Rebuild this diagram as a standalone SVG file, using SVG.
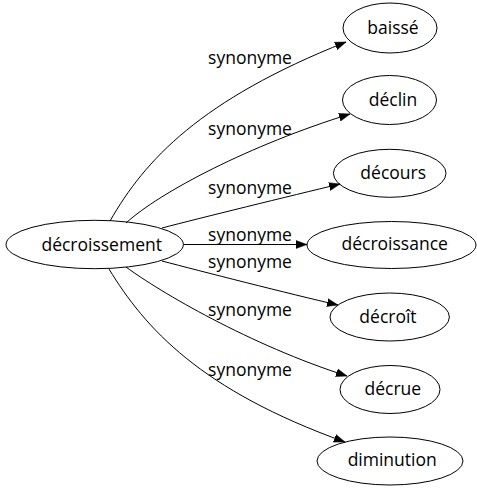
<svg xmlns="http://www.w3.org/2000/svg" width="477" height="491" viewBox="0 0 477 491">
<style>
  .node ellipse { fill: none; stroke: #000; stroke-width: 1; }
  text { font-family: "Open Sans", "Noto Sans", sans-serif; font-size: 17.5px; fill: #000; text-anchor: middle; }
  .edges path { fill: none; stroke: #000; stroke-width: 1; marker-end: url(#arrow); }
</style>
<defs>
  <marker id="arrow" markerUnits="userSpaceOnUse" markerWidth="12" markerHeight="10" refX="11" refY="4" orient="auto" viewBox="0 0 12 8">
    <path d="M0,0 L11,4 L0,8 Z" fill="#000" stroke="#000" stroke-width="0.5"/>
  </marker>
</defs>
<rect width="477" height="491" fill="#fff"/>
<g class="edges" id="edges">
  <path d="M110,221 C145,160 200,100 346,42"/>
  <path d="M126,223 C160,192 250,145 350,114"/>
  <path d="M162,228 C200,218 290,196 340,184"/>
  <path d="M183.5,244.5 L307,244.5"/>
  <path d="M162,261 C200,271 290,294 338,305"/>
  <path d="M126,267 C160,292 250,345 347,376"/>
  <path d="M109,269 C145,328 200,390 345,442"/>
  <text x="250" y="64">synonyme</text>
  <text x="250" y="135">synonyme</text>
  <text x="250" y="194">synonyme</text>
  <text x="250" y="240.5">synonyme</text>
  <text x="250" y="267.5">synonyme</text>
  <text x="250" y="315.5">synonyme</text>
  <text x="250" y="376">synonyme</text>
</g>
<g class="node" id="n-decroissement">
  <ellipse cx="94.7" cy="244.5" rx="88.7" ry="24.2"/>
  <text x="101.7" y="250.5">décroissement</text>
</g>
<g class="node" id="n-baisse">
  <ellipse cx="390" cy="28" rx="47" ry="25"/>
  <text x="393" y="33.5">baissé</text>
</g>
<g class="node" id="n-declin">
  <ellipse cx="389.5" cy="100" rx="47" ry="24.5"/>
  <text x="393" y="106">déclin</text>
</g>
<g class="node" id="n-decours">
  <ellipse cx="389.7" cy="173.3" rx="56.3" ry="24"/>
  <text x="393.2" y="178.5">décours</text>
</g>
<g class="node" id="n-decroissance">
  <ellipse cx="391.5" cy="245" rx="84.5" ry="23.5"/>
  <text x="394.7" y="250">décroissance</text>
</g>
<g class="node" id="n-decroit">
  <ellipse cx="389.7" cy="317" rx="59.7" ry="24"/>
  <text x="388" y="322.7">décroît</text>
</g>
<g class="node" id="n-decrue">
  <ellipse cx="390" cy="389.5" rx="50" ry="24"/>
  <text x="392.8" y="394.5">décrue</text>
</g>
<g class="node" id="n-diminution">
  <ellipse cx="390" cy="461" rx="73" ry="24"/>
  <text x="392.2" y="466">diminution</text>
</g>
</svg>
